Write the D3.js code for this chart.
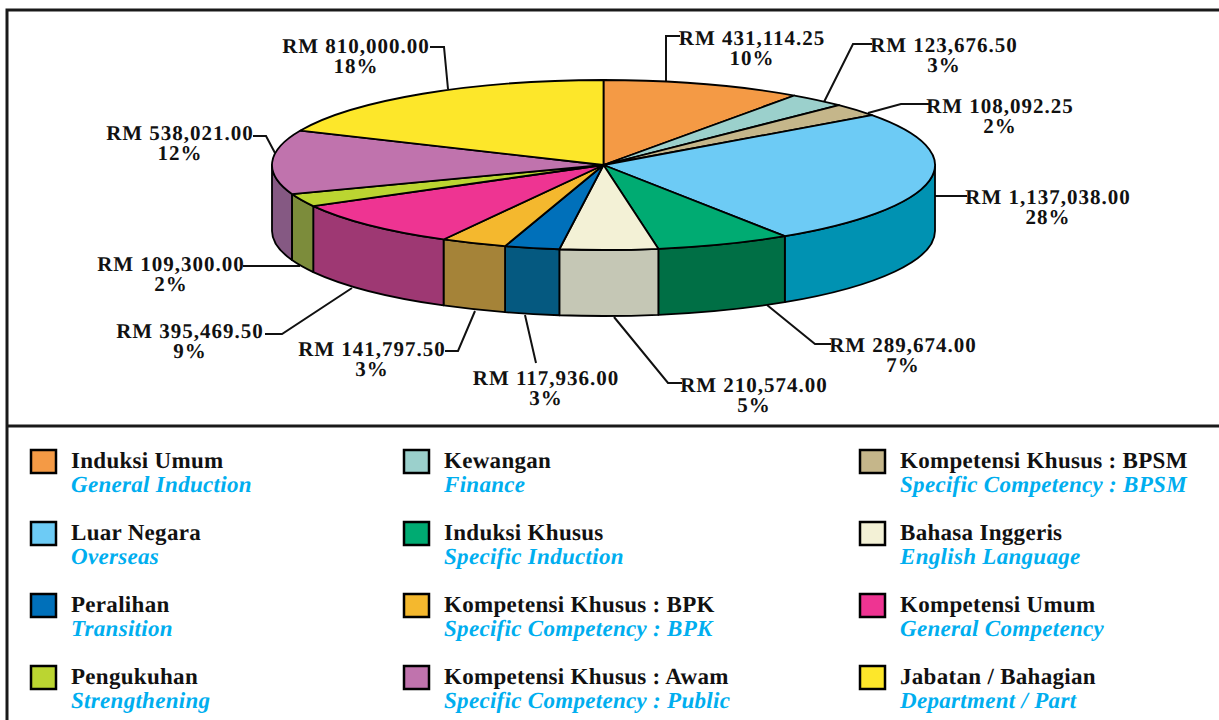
<!DOCTYPE html>
<html>
<head>
<meta charset="utf-8">
<script src="https://cdnjs.cloudflare.com/ajax/libs/d3/7.8.5/d3.min.js"></script>
<style>
    html, body { margin: 0; padding: 0; background: #fff; }
    svg { display: block; }
    text { font-family: "Liberation Serif", serif; text-rendering: geometricPrecision; }
    .val { font-size: 21px; font-weight: 700; letter-spacing: 1px; text-anchor: middle; fill: #111; }
    .nameMs { font-size: 23px; font-weight: 700; letter-spacing: 0.3px; fill: #111; }
    .nameEn { font-size: 23px; font-weight: 700; letter-spacing: 0.3px; font-style: italic; fill: #00aeef; }
</style>
</head>
<body>
<div id="chart"></div>
<script>
// slices, clockwise from the top of the pie
var namesMs = ["Induksi Umum", "Kewangan", "Kompetensi Khusus : BPSM", "Luar Negara", "Induksi Khusus", "Bahasa Inggeris",
    "Peralihan", "Kompetensi Khusus : BPK", "Kompetensi Umum", "Pengukuhan", "Kompetensi Khusus : Awam", "Jabatan / Bahagian"];
var namesEn = ["General Induction", "Finance", "Specific Competency : BPSM", "Overseas", "Specific Induction", "English Language",
    "Transition", "Specific Competency : BPK", "General Competency", "Strengthening", "Specific Competency : Public", "Department / Part"];
var amounts = [431114.25, 123676.50, 108092.25, 1137038.00, 289674.00, 210574.00,
    117936.00, 141797.50, 395469.50, 109300.00, 538021.00, 810000.00];
var percents = [10, 3, 2, 28, 7, 5, 3, 3, 9, 2, 12, 18];
var topColors = ["#f49a45", "#9bd0cc", "#c5b68a", "#6dcbf5", "#00ab72", "#f3f1d6",
    "#0070ba", "#f4b82e", "#ee3492", "#bbd531", "#c073ad", "#fde72a"];
var sideColors = ["#a86a30", "#6b908d", "#887e5f", "#0092b2", "#006f45", "#c5c7b5",
    "#055980", "#a58338", "#9e3873", "#7c8c3b", "#855983", "#af9f1d"];

// label centre + leader polyline, in page pixels
var labelPos = [[752, 38], [944, 45], [1000, 106], [1048, 197], [903, 345], [754, 385],
    [546, 378], [372, 349], [190, 331], [171, 264], [180, 133], [356, 46]];
var leaders = [
    [[666, 81], [666, 36], [680, 36]],
    [[824, 102], [853, 44], [872, 44]],
    [[868, 113], [901, 104], [929, 104]],
    [[934, 196], [967, 196]],
    [[767, 305], [815, 344], [831, 344]],
    [[614, 317], [668, 383], [682, 383]],
    [[525, 315], [536, 363]],
    [[475, 311], [458, 351], [445, 351]],
    [[352, 288], [282, 334], [265, 334]],
    [[300, 266], [243, 266]],
    [[275, 153], [266, 136], [253, 136]],
    [[448, 89], [444, 47], [430, 47]]
];

var width = 1219, height = 720;
var cx = 603.5, cy = 165, rx = 331.5, ry = 85, depth = 66;

var svg = d3.select("#chart").append("svg")
    .attr("width", width)
    .attr("height", height);

// frame
svg.append("path")
    .attr("d", "M1219,10H7V720M7,426H1219")
    .attr("fill", "none")
    .attr("stroke", "#1a1a1a")
    .attr("stroke-width", 3);

var pie = d3.pie().sort(null).value(function(d) { return d; });
var arcs = pie(amounts);

function px(a) { return cx + rx * Math.sin(a); }
function py(a) { return cy - ry * Math.cos(a); }

// front wall of a slice: only the part between 90 and 270 degrees shows
function wallPath(d) {
    var a0 = Math.max(d.startAngle, Math.PI / 2), a1 = Math.min(d.endAngle, Math.PI * 1.5);
    if (a1 <= a0) return null;
    return "M" + px(a0) + "," + py(a0)
        + "A" + rx + "," + ry + " 0 0 1 " + px(a1) + "," + py(a1)
        + "V" + (py(a1) + depth)
        + "A" + rx + "," + ry + " 0 0 0 " + px(a0) + "," + (py(a0) + depth)
        + "Z";
}

function topPath(d) {
    return "M" + cx + "," + cy + "L" + px(d.startAngle) + "," + py(d.startAngle)
        + "A" + rx + "," + ry + " 0 " + (d.endAngle - d.startAngle > Math.PI ? 1 : 0) + " 1 " + px(d.endAngle) + "," + py(d.endAngle)
        + "Z";
}

var line = d3.line();

svg.append("g").selectAll("path")
    .data(leaders)
    .enter().append("path")
    .attr("d", function(d) { return line(d); })
    .attr("fill", "none")
    .attr("stroke", "#111")
    .attr("stroke-width", 2);

svg.append("g").selectAll("path")
    .data(arcs.filter(function(d) { return wallPath(d) !== null; }))
    .enter().append("path")
    .attr("d", wallPath)
    .attr("fill", function(d) { return sideColors[d.index]; })
    .attr("stroke", "#000")
    .attr("stroke-width", 1.8)
    .attr("stroke-linejoin", "round");

svg.append("g").selectAll("path")
    .data(arcs)
    .enter().append("path")
    .attr("d", topPath)
    .attr("fill", function(d) { return topColors[d.index]; })
    .attr("stroke", "#000")
    .attr("stroke-width", 1.8)
    .attr("stroke-linejoin", "round");

// value labels, amount and percent as two lines of one text
var fmt = d3.format(",.2f");
var labels = svg.append("g").selectAll("text")
    .data(amounts)
    .enter().append("text")
    .attr("class", "val")
    .attr("transform", function(d, i) { return "translate(" + labelPos[i][0] + "," + labelPos[i][1] + ")"; });

labels.append("tspan")
    .attr("x", 0)
    .attr("y", 7)
    .text(function(d) { return "RM " + fmt(d); });

labels.append("tspan")
    .attr("x", 0)
    .attr("y", 27)
    .text(function(d, i) { return percents[i] + "%"; });

// legend, three columns filled row by row
var columnX = [31, 404, 860];
var rowY = d3.scaleLinear().domain([0, 3]).range([450, 666]);

var items = svg.append("g").selectAll("g")
    .data(namesMs)
    .enter().append("g")
    .attr("transform", function(d, i) { return "translate(" + columnX[i % 3] + "," + rowY(Math.floor(i / 3)) + ")"; });

items.append("rect")
    .attr("width", 25)
    .attr("height", 23)
    .attr("fill", function(d, i) { return topColors[i]; })
    .attr("stroke", "#000")
    .attr("stroke-width", 2.5);

items.append("text")
    .attr("class", "nameMs")
    .attr("x", 40)
    .attr("y", 18)
    .text(function(d) { return d; });

items.append("text")
    .attr("class", "nameEn")
    .attr("x", 40)
    .attr("y", 42)
    .text(function(d, i) { return namesEn[i]; });
</script>
</body>
</html>
